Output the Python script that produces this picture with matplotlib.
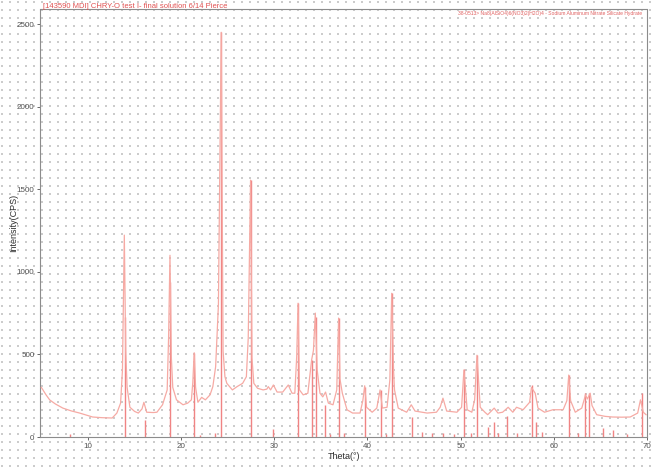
"""
XRD scan (Theta vs CPS) with reference stick pattern.
"""

import numpy as np
import matplotlib
matplotlib.use("Agg")
import matplotlib.pyplot as plt

plt.rcParams['font.family'] = ['Liberation Sans', 'DejaVu Sans']

theta = [5.0, 5.5, 5.9, 6.5, 7.3, 8.2, 9.1, 10.0, 10.5, 11.5, 12.6, 13.1, 13.5, 13.7,
         13.9, 14.05, 14.2, 14.5, 15.0, 15.4, 15.8, 16.0, 16.3, 17.0, 17.4, 18.0, 18.5,
         18.65, 18.8, 18.95, 19.1, 19.5, 20.2, 20.7, 21.1, 21.25, 21.4, 21.55, 21.8, 22.2,
         22.6, 23.1, 23.4, 23.7, 24.0, 24.3, 24.5, 24.7, 24.9, 25.5, 26.0, 26.6, 27.0,
         27.2, 27.45, 27.6, 27.8, 28.2, 28.8, 29.2, 29.35, 29.6, 29.9, 30.3, 30.9, 31.5,
         31.9, 32.2, 32.4, 32.55, 32.7, 33.1, 33.6, 34.0, 34.2, 34.4, 34.6, 34.9, 35.2,
         35.5, 35.8, 36.3, 36.7, 36.9, 37.05, 37.3, 37.8, 38.4, 39.2, 39.5, 39.7, 39.9,
         40.5, 41.0, 41.35, 41.6, 42.1, 42.4, 42.6, 42.8, 42.9, 43.3, 44.2, 44.7, 45.1,
         46.4, 47.4, 47.8, 48.1, 48.5, 49.6, 50.1, 50.35, 50.7, 51.2, 51.5, 51.75, 52.1,
         52.6, 52.9, 53.6, 54.0, 54.5, 55.1, 55.6, 56.0, 56.7, 57.4, 57.6, 58.0, 58.3,
         59.0, 59.9, 61.0, 61.4, 61.6, 61.8, 62.3, 63.0, 63.4, 63.6, 63.9, 64.1, 64.6,
         65.5, 66.3, 67.3, 68.2, 69.0, 69.3, 69.6, 69.9]
counts = [300, 255, 224, 200, 175, 158, 145, 130, 121, 117, 115, 145, 205, 405,
          1222, 520, 300, 180, 155, 145, 170, 210, 150, 148, 150, 195, 285,
          600, 1100, 480, 300, 225, 195, 205, 225, 330, 510, 300, 210, 240,
          225, 255, 305, 425, 800, 2450, 520, 365, 325, 285, 305, 325, 365,
          600, 1555, 480, 325, 295, 285, 290, 305, 285, 315, 272, 272, 315,
          265, 265, 485, 810, 285, 255, 265, 465, 525, 750, 405, 265, 243,
          272, 205, 195, 285, 720, 350, 265, 165, 145, 145, 220, 310, 180,
          150, 175, 285, 175, 180, 345, 870, 400, 285, 175, 150, 195, 157,
          145, 150, 180, 235, 157, 150, 180, 405, 165, 150, 225, 495, 180,
          150, 135, 175, 145, 150, 180, 150, 180, 165, 210, 300, 265, 175,
          150, 165, 165, 220, 375, 220, 150, 175, 255, 230, 265, 190, 135,
          125, 121, 120, 121, 145, 225, 150, 135]

# reference pattern sticks
stick_pos = [8.07, 13.95, 16.12, 18.8, 21.37, 22.02, 23.63, 24.27, 27.49, 29.85, 32.53,
             34.03, 34.46, 35.43, 35.97, 36.93, 37.47, 39.72, 41.44, 41.97, 42.62, 44.76,
             45.84, 46.91, 48.09, 49.27, 50.34, 51.09, 51.74, 52.92, 53.56, 53.99, 54.96,
             56.03, 57.64, 58.07, 58.71, 61.61, 62.58, 63.33, 63.76, 65.26, 66.33, 67.83,
             69.44]
stick_h = [20, 725, 100, 940, 510, 15, 25, 2450, 1555, 50, 810,
           465, 725, 195, 20, 720, 25, 305, 285, 20, 870, 120,
           30, 25, 25, 20, 410, 25, 495, 60, 90, 25, 125,
           25, 315, 90, 30, 375, 25, 265, 265, 55, 40, 20,
           265]

title_left = "[143590 MDI] CHRY-O test I- final solution 6/14 Pierce"
title_right = "38-0513> Na8(AlSiO4)6(NO3)2(H2O)4 - Sodium Aluminum Nitrate Silicate Hydrate"

W, H = 655, 467
fig = plt.figure(figsize=(W / 100, H / 100), dpi=100)

# dotted lattice in the background
bg = fig.add_axes([0, 0, 1, 1], zorder=-1)
bg.set_xlim(0, W)
bg.set_ylim(H, 0)
bg.axis('off')
gx, gy = np.meshgrid(np.arange(2, W, 8), np.arange(2, H, 8))
bg.scatter(gx.ravel(), gy.ravel(), s=0.6, marker='s', color='#cccccc', linewidths=0)

ax = fig.add_axes([40 / W, 30 / H, 607 / W, 427.5 / H])
ax.patch.set_alpha(0)

ax.vlines(stick_pos, 0, stick_h, color='#f08484', lw=1.0, zorder=2)
ax.plot(theta, counts, color='#f6aaa4', lw=0.9, zorder=3)

ax.set_xlim(4.85, 70)
ax.set_ylim(0, 2588)
ax.set_xticks(range(10, 71, 10))
ax.set_yticks(range(0, 2501, 500))
ax.tick_params(labelsize=5.8, colors='#505050', length=2, width=0.6, pad=2)

for s in ax.spines.values():
    s.set_color('#8c8c8c')
    s.set_linewidth(0.8)

ax.set_xlabel("Theta(°)", fontsize=6.5, color='#303030', labelpad=2)
ax.set_ylabel("Intensity(CPS)", fontsize=6.5, color='#303030')
ax.yaxis.set_label_coords(-0.036, 0.5)

fig.text(43 / W, 1 - 6 / H, title_left, fontsize=5.5, color='#e05050', va='center', ha='left')
fig.text(642 / W, 1 - 14 / H, title_right, fontsize=3.6, color='#e06060', va='center', ha='right')

fig.savefig("out.png", dpi=100)
